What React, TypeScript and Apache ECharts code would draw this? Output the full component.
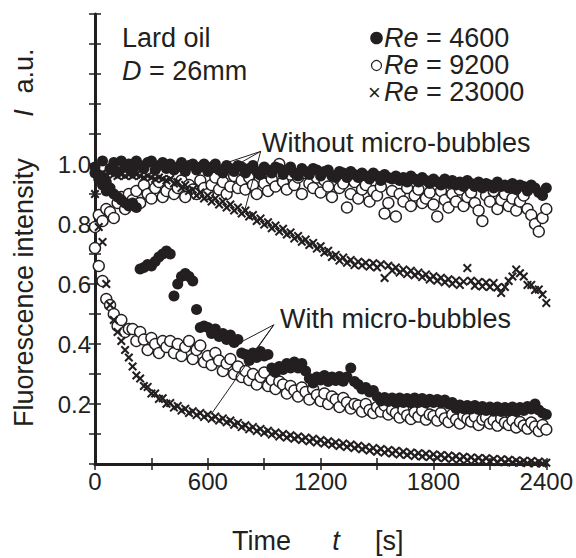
import React, { useEffect, useRef } from "react";
import * as echarts from "echarts";

// sampling times [s]
const timeS = [
  0, 20, 40, 60, 80, 100, 120, 140, 160, 180,
  200, 220, 240, 260, 280, 300, 320, 340, 360, 380,
  400, 420, 440, 460, 480, 500, 520, 540, 560, 580,
  600, 620, 640, 660, 680, 700, 720, 740, 760, 780,
  800, 820, 840, 860, 880, 900, 920, 940, 960, 980,
  1000, 1020, 1040, 1060, 1080, 1100, 1120, 1140, 1160, 1180,
  1200, 1220, 1240, 1260, 1280, 1300, 1320, 1340, 1360, 1380,
  1400, 1420, 1440, 1460, 1480, 1500, 1520, 1540, 1560, 1580,
  1600, 1620, 1640, 1660, 1680, 1700, 1720, 1740, 1760, 1780,
  1800, 1820, 1840, 1860, 1880, 1900, 1920, 1940, 1960, 1980,
  2000, 2020, 2040, 2060, 2080, 2100, 2120, 2140, 2160, 2180,
  2200, 2220, 2240, 2260, 2280, 2300, 2320, 2340, 2360, 2380,
  2400,
];

// Without micro-bubbles
const re4600Without = [
  0.99, 0.96, 1.01, 0.94, 0.985, 1.005, 0.975, 1.01, 0.99, 1.0,
  0.98, 1.01, 0.995, 0.985, 1.005, 1.01, 0.98, 0.995, 1.005, 0.985,
  1.0, 0.98, 0.99, 1.005, 0.975, 0.995, 1.0, 0.98, 0.99, 1.0,
  0.975, 0.99, 1.0, 0.98, 0.97, 0.995, 0.985, 0.975, 0.995, 0.99,
  0.97, 0.985, 0.995, 0.975, 0.965, 0.99, 0.98, 0.97, 0.99, 0.985,
  0.965, 0.98, 0.99, 0.97, 0.96, 0.985, 0.975, 0.965, 0.985, 0.98,
  0.96, 0.975, 0.98, 0.96, 0.955, 0.975, 0.97, 0.955, 0.975, 0.965,
  0.955, 0.97, 0.96, 0.95, 0.97, 0.96, 0.945, 0.965, 0.955, 0.95,
  0.96, 0.945, 0.955, 0.94, 0.96, 0.95, 0.94, 0.955, 0.945, 0.935,
  0.95, 0.94, 0.93, 0.95, 0.935, 0.945, 0.93, 0.94, 0.925, 0.945,
  0.935, 0.925, 0.94, 0.92, 0.935, 0.93, 0.92, 0.94, 0.925, 0.93,
  0.92, 0.935, 0.915, 0.93, 0.925, 0.91, 0.93, 0.92, 0.905, 0.895,
  0.92,
];
const re9200Without = [
  0.79, 0.83, 0.81, 0.85, 0.84, 0.82, 0.87, 0.89, 0.85, 0.9,
  0.88, 0.91, 0.87, 0.93, 0.9, 0.885, 0.92, 0.94, 0.89, 0.91,
  0.935, 0.9, 0.92, 0.945, 0.89, 0.93, 0.915, 0.9, 0.945, 0.92,
  0.9, 0.93, 0.955, 0.915, 0.94, 0.9, 0.925, 0.96, 0.92, 0.945,
  0.915, 0.955, 0.93, 0.9, 0.965, 0.935, 0.91, 0.95, 0.925, 1.0,
  0.94, 0.915, 0.965, 0.93, 0.955, 0.9, 0.97, 0.935, 0.92, 0.955,
  0.905, 0.945, 0.925, 0.89, 0.96, 0.92, 0.935, 0.855, 0.9, 0.94,
  0.885, 0.915, 0.93, 0.875, 0.91, 0.895, 0.925, 0.835, 0.87, 0.91,
  0.825, 0.9, 0.875, 0.92, 0.86, 0.895, 0.915, 0.87, 0.885, 0.905,
  0.865, 0.825, 0.91, 0.88, 0.855, 0.9, 0.875, 0.915, 0.86, 0.89,
  0.905, 0.87, 0.845, 0.81, 0.895, 0.875, 0.91, 0.85, 0.88, 0.9,
  0.86, 0.885, 0.845, 0.875, 0.895, 0.85, 0.83, 0.8, 0.775, 0.82,
  0.85,
];
const re23000Without = [
  0.97, 0.965, 0.97, 0.965, 0.97, 0.965, 0.96, 0.965, 0.96, 0.965,
  0.96, 0.965, 0.96, 0.955, 0.96, 0.955, 0.95, 0.955, 0.95, 0.945,
  0.95, 0.935, 0.94, 0.92, 0.93, 0.91, 0.915, 0.895, 0.905, 0.885,
  0.895, 0.875, 0.885, 0.865, 0.875, 0.855, 0.865, 0.845, 0.855, 0.835,
  0.845, 0.825, 0.83, 0.81, 0.818, 0.798, 0.806, 0.786, 0.795, 0.775,
  0.784, 0.765, 0.772, 0.752, 0.76, 0.741, 0.748, 0.73, 0.737, 0.718,
  0.726, 0.705, 0.711, 0.69, 0.697, 0.678, 0.688, 0.671, 0.68, 0.663,
  0.674, 0.662, 0.671, 0.658, 0.669, 0.655, 0.666, 0.62, 0.661, 0.645,
  0.655, 0.638, 0.648, 0.633, 0.644, 0.629, 0.638, 0.623, 0.632, 0.615,
  0.626, 0.611, 0.621, 0.606, 0.616, 0.601, 0.612, 0.597, 0.608, 0.653,
  0.611, 0.594, 0.607, 0.592, 0.605, 0.59, 0.603, 0.588, 0.57, 0.59,
  0.61, 0.625, 0.648, 0.636, 0.625, 0.597, 0.597, 0.58, 0.582, 0.565,
  0.537,
];

// With micro-bubbles
const re4600With = [
  0.97, 0.95, 0.93, 0.91, 0.92, 0.9, 0.89, 0.88, 0.87, 0.86,
  0.87, 0.855, 0.65, 0.655, 0.665, 0.66, 0.675, 0.69, 0.7, 0.71,
  0.7, 0.56, 0.6, 0.625, 0.635, 0.625, 0.61, 0.515, 0.455, 0.46,
  0.455, 0.435, 0.45, 0.425, 0.435, 0.415, 0.43, 0.405, 0.415, 0.37,
  0.365, 0.345, 0.37, 0.355, 0.375, 0.36, 0.365, 0.32, 0.305, 0.325,
  0.315, 0.335, 0.32, 0.34, 0.32, 0.335, 0.31, 0.285, 0.27, 0.29,
  0.28, 0.295, 0.275, 0.29, 0.278, 0.292, 0.276, 0.29, 0.32, 0.275,
  0.265, 0.25, 0.255, 0.24, 0.245, 0.225, 0.21, 0.222, 0.208, 0.22,
  0.205, 0.22, 0.205, 0.218, 0.204, 0.22, 0.205, 0.218, 0.203, 0.216,
  0.205, 0.215, 0.203, 0.213, 0.2, 0.205, 0.185, 0.197, 0.184, 0.195,
  0.183, 0.195, 0.182, 0.192, 0.178, 0.19, 0.176, 0.19, 0.175, 0.188,
  0.176, 0.19, 0.175, 0.188, 0.178, 0.192, 0.183, 0.2, 0.18, 0.17,
  0.165,
];
const re9200With = [
  0.72, 0.66, 0.61, 0.55, 0.53, 0.5, 0.46, 0.48, 0.44, 0.45,
  0.45, 0.41, 0.44, 0.415, 0.38, 0.42, 0.4, 0.37, 0.41, 0.39,
  0.41, 0.37, 0.4, 0.36, 0.39, 0.41, 0.35, 0.38, 0.395, 0.34,
  0.36, 0.33, 0.37, 0.345, 0.31, 0.335, 0.35, 0.3, 0.325, 0.29,
  0.31, 0.28, 0.3, 0.265, 0.29, 0.305, 0.26, 0.28, 0.25, 0.275,
  0.265, 0.235, 0.26, 0.245, 0.225, 0.255, 0.24, 0.215, 0.25, 0.23,
  0.21, 0.235, 0.2, 0.225, 0.215, 0.19, 0.22, 0.205, 0.185, 0.2,
  0.195, 0.175, 0.2, 0.18, 0.17, 0.19, 0.175, 0.195, 0.165, 0.18,
  0.17, 0.155, 0.18, 0.162, 0.15, 0.172, 0.158, 0.178, 0.148, 0.165,
  0.16, 0.145, 0.17, 0.152, 0.14, 0.165, 0.148, 0.135, 0.16, 0.15,
  0.142, 0.158, 0.13, 0.148, 0.155, 0.135, 0.145, 0.128, 0.152, 0.138,
  0.13, 0.145, 0.122, 0.14, 0.128, 0.118, 0.138, 0.125, 0.11, 0.13,
  0.115,
];
const re23000With = [
  0.9, 0.79, 0.74, 0.6, 0.53, 0.48, 0.44, 0.41, 0.38, 0.355,
  0.325, 0.295, 0.285, 0.26, 0.257, 0.235, 0.235, 0.217, 0.219, 0.201,
  0.203, 0.188, 0.193, 0.178, 0.184, 0.17, 0.176, 0.163, 0.17, 0.157,
  0.164, 0.151, 0.158, 0.145, 0.152, 0.139, 0.145, 0.131, 0.137, 0.123,
  0.129, 0.116, 0.123, 0.11, 0.117, 0.104, 0.111, 0.098, 0.105, 0.092,
  0.1, 0.088, 0.096, 0.084, 0.092, 0.08, 0.088, 0.076, 0.084, 0.072,
  0.08, 0.068, 0.076, 0.064, 0.072, 0.06, 0.068, 0.057, 0.065, 0.053,
  0.061, 0.049, 0.057, 0.045, 0.053, 0.041, 0.05, 0.038, 0.047, 0.035,
  0.044, 0.032, 0.041, 0.03, 0.038, 0.027, 0.036, 0.025, 0.034, 0.023,
  0.032, 0.021, 0.03, 0.019, 0.028, 0.017, 0.026, 0.015, 0.024, 0.013,
  0.022, 0.012, 0.02, 0.01, 0.019, 0.009, 0.017, 0.007, 0.016, 0.006,
  0.014, 0.005, 0.012, 0.004, 0.011, 0.003, 0.01, 0.002, 0.008, 0.002,
  0.004,
];

const legendLabels = ["4600", "9200", "23000"];

// annotation leader lines (data coordinates: [t, I])
const withoutLeaders = [
  [[881, 1.042], [670, 0.998]],
  [[881, 1.042], [757, 0.998]],
  [[881, 1.042], [793, 0.838]],
];
const withLeaders = [
  [[951, 0.464], [784, 0.409]],
  [[951, 0.464], [855, 0.381]],
  [[951, 0.464], [617, 0.165]],
];

const INK = "#231f20";
const FONT = "'Liberation Sans', Arial, Helvetica, sans-serif";
const CROSS =
  "path://M0,1.6L1.6,0L5,3.4L8.4,0L10,1.6L6.6,5L10,8.4L8.4,10L5,6.6L1.6,10L0,8.4L3.4,5Z";

function pairs(v: number[]) {
  return timeS.map((t, i) => [t, v[i]]);
}

export default function App() {
  const ref = useRef<HTMLDivElement>(null);
  useEffect(() => {
    document.body.style.margin = "0";
    const chart = echarts.init(ref.current!, null, { renderer: "svg" });

    const filled = { symbol: "circle", symbolSize: 11, itemStyle: { color: INK, opacity: 1 } };
    const open = {
      symbol: "circle",
      symbolSize: 11,
      itemStyle: { color: "#ffffff", borderColor: INK, borderWidth: 1.4, opacity: 1 },
    };
    const cross = { symbol: CROSS, symbolSize: 9, itemStyle: { color: INK, opacity: 1 } };

    const leaderData = [...withoutLeaders, ...withLeaders].map((seg) => [
      { coord: seg[0] },
      { coord: seg[1] },
    ]);

    const txt = (text: string, x: number, y: number, extra: any = {}) => ({
      type: "text",
      x,
      y,
      silent: true,
      ...extra,
      style: {
        text,
        fontSize: 27,
        fontFamily: FONT,
        fill: INK,
        align: "left",
        verticalAlign: "middle",
        lineHeight: 27,
        rich: {
          i: { fontStyle: "italic", fontSize: 27, fontFamily: FONT, fill: INK, lineHeight: 27 },
          n: { fontSize: 27, fontFamily: FONT, fill: INK, lineHeight: 27 },
        },
        ...(extra.style || {}),
      },
    });

    const legendText = legendLabels.map((l) => "{i|Re}{n| = " + l + "}").join("\n");

    const option: any = {
      animation: false,
      backgroundColor: "#ffffff",
      grid: { left: 95, right: 27, top: 14, bottom: 94 },
      xAxis: [
        {
          type: "value",
          min: 0,
          max: 2400,
          interval: 300,
          position: "bottom",
          axisLine: { show: true, lineStyle: { color: INK, width: 3 } },
          axisTick: { show: true, inside: true, length: 6, lineStyle: { color: INK, width: 1.5 } },
          axisLabel: {
            show: true,
            margin: 5,
            fontSize: 24,
            fontFamily: FONT,
            color: INK,
            formatter: (v: number) => (Math.round(v) % 600 === 0 ? String(Math.round(v)) : ""),
          },
          splitLine: { show: false },
        },
        {
          type: "value",
          min: 0,
          max: 2400,
          interval: 300,
          position: "top",
          axisLine: { show: true, lineStyle: { color: INK, width: 1.5 } },
          axisTick: { show: true, inside: true, length: 6, lineStyle: { color: INK, width: 1.5 } },
          axisLabel: { show: false },
          splitLine: { show: false },
        },
      ],
      yAxis: [
        {
          type: "value",
          min: 0,
          max: 1.5,
          interval: 0.1,
          position: "left",
          axisLine: { show: true, lineStyle: { color: INK, width: 3 } },
          axisTick: { show: true, inside: true, length: 6, lineStyle: { color: INK, width: 1.5 } },
          axisLabel: {
            show: true,
            margin: 4,
            fontSize: 24,
            fontFamily: FONT,
            color: INK,
            formatter: (v: number) => {
              const k = Math.round(v * 10);
              return k >= 2 && k <= 10 && k % 2 === 0 ? (k / 10).toFixed(1) : "";
            },
          },
          splitLine: { show: false },
        },
        {
          type: "value",
          min: 0,
          max: 1.5,
          interval: 0.1,
          position: "right",
          axisLine: { show: true, lineStyle: { color: INK, width: 1.5 } },
          axisTick: { show: true, inside: true, length: 6, lineStyle: { color: INK, width: 1.5 } },
          axisLabel: { show: false },
          splitLine: { show: false },
        },
      ],
      series: [
        { type: "scatter", name: "Re9200 without", data: pairs(re9200Without), ...open },
        { type: "scatter", name: "Re9200 with", data: pairs(re9200With), ...open },
        { type: "scatter", name: "Re23000 without", data: pairs(re23000Without), ...cross },
        { type: "scatter", name: "Re23000 with", data: pairs(re23000With), ...cross },
        { type: "scatter", name: "Re4600 with", data: pairs(re4600With), ...filled },
        { type: "scatter", name: "Re4600 without", data: pairs(re4600Without), ...filled },
        {
          type: "scatter",
          name: "leaders",
          data: [],
          silent: true,
          markLine: {
            silent: true,
            symbol: ["none", "none"],
            label: { show: false },
            lineStyle: { color: INK, width: 1, type: "solid" },
            data: leaderData,
          },
        },
      ],
      graphic: [
        txt("Lard oil", 122, 38),
        txt("{i|D}{n| = 26mm}", 122, 71),
        { type: "circle", shape: { cx: 376.5, cy: 38, r: 6.3 }, style: { fill: INK }, silent: true },
        {
          type: "circle",
          shape: { cx: 376.5, cy: 65.5, r: 5 },
          style: { fill: "#fff", stroke: INK, lineWidth: 1.2 },
          silent: true,
        },
        txt("×", 374.5, 92, { style: { align: "center", fontSize: 22, lineHeight: 20 } }),
        txt(legendText, 384, 65),
        txt("Without micro-bubbles", 262, 142.5),
        txt("With micro-bubbles", 280, 319),
        txt("Fluorescence intensity", 24, 427, { rotation: Math.PI / 2 }),
        txt("{i|I}", 24, 113, { rotation: Math.PI / 2, style: { align: "center" } }),
        txt("a.u.", 24, 71, { rotation: Math.PI / 2, style: { align: "center" } }),
        txt("Time", 232, 541),
        txt("{i|t}", 336, 541, { style: { align: "center" } }),
        txt("[s]", 375, 541),
      ],
    };
    chart.setOption(option);
    return () => chart.dispose();
  }, []);
  return <div ref={ref} style={{ width: 576, height: 558 }} />;
}
